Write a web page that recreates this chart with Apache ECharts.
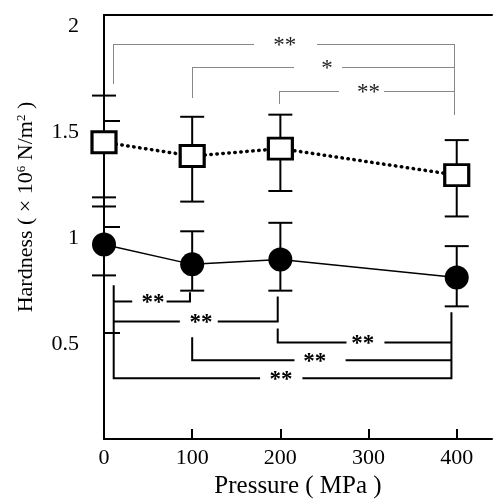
<!DOCTYPE html>
<html>
<head>
<meta charset="utf-8">
<script src="https://cdn.jsdelivr.net/npm/echarts@6/dist/echarts.min.js"></script>
<style>
html,body{margin:0;padding:0;background:#fff}
#container{width:493px;height:504px}
</style>
</head>
<body>
<div id="container"></div>
<script>
var pressure = [0, 100, 200, 400];
var squareMean = [1.40, 1.335, 1.37, 1.245];
var squareHigh = [1.62, 1.52, 1.53, 1.41];
var squareLow = [1.14, 1.12, 1.17, 1.05];
var circleMean = [0.918, 0.824, 0.847, 0.762];
var circleHigh = [1.097, 0.98, 1.02, 0.91];
var circleLow = [0.772, 0.70, 0.70, 0.626];
var xTicks = [0, 100, 200, 300, 400];
var yTicks = [0.5, 1, 1.5, 2];
// brackets: [from x, to x, bar y, left end y, right end y, gap start x, gap end x, label x]
var sigTop = [
	[10, 397, 1.864, 1.68, 1.53, 170, 241, 205],
	[100, 397, 1.755, 1.614, 1.755, 214, 270, 253],
	[198, 397, 1.642, 1.586, 1.642, 265, 317, 300]
];
var sigTopText = ['**', '*', '**'];
var sigBottom = [
	[11, 97.5, 0.649, 0.649, 0.692, 32, 71, 55.5],
	[11, 197, 0.555, 0.555, 0.673, 86, 129, 110],
	[100, 394, 0.372, 0.48, 0.372, 216, 274, 239],
	[197, 394, 0.456, 0.522, 0.456, 275, 318, 293.5],
	[11, 394, 0.287, 0.725, 0.598, 177, 225, 200.6]
];
var sigBottomText = ['**', '**', '**', '**', '**'];

var font = 'Liberation Serif';
var chart = echarts.init(document.getElementById('container'));

function zip(a, b, c) {
	return a.map(function (v, i) { return c ? [v, b[i], c[i]] : [v, b[i]]; });
}

// 误差线
function errorItem(params, api) {
	var x = api.value(0);
	var lo = api.coord([x, api.value(1)]);
	var hi = api.coord([x, api.value(2)]);
	var w = 12;
	var st = { stroke: '#000', lineWidth: 2 };
	return {
		type: 'group',
		children: [
			{ type: 'line', shape: { x1: lo[0], y1: lo[1], x2: hi[0], y2: hi[1] }, style: st },
			{ type: 'line', shape: { x1: hi[0] - w, y1: hi[1], x2: hi[0] + w, y2: hi[1] }, style: st },
			{ type: 'line', shape: { x1: lo[0] - w, y1: lo[1], x2: lo[0] + w, y2: lo[1] }, style: st }
		]
	};
}

// 显著性标记
function bracketItem(texts, dotted) {
	return function (params, api) {
		// 虚线对齐到半像素，避免发灰
		var p = function (x, y) {
			var c = api.coord([x, y]);
			return dotted ? [Math.round(c[0]) + 0.5, Math.round(c[1]) + 0.5] : c;
		};
		var x1 = api.value(0), x2 = api.value(1), y = api.value(2);
		var yl = api.value(3), yr = api.value(4);
		var g1 = api.value(5), g2 = api.value(6), tx = api.value(7);
		var st = dotted
			? { stroke: '#111', lineWidth: 1, lineDash: [1, 1], fill: null }
			: { stroke: '#000', lineWidth: 2, fill: null };
		var t = api.coord([tx, y]);
		return {
			type: 'group',
			children: [
				{ type: 'polyline', shape: { points: [p(x1, yl), p(x1, y), p(g1, y)] }, style: st },
				{ type: 'polyline', shape: { points: [p(g2, y), p(x2, y), p(x2, yr)] }, style: st },
				{
					type: 'text',
					x: t[0], y: t[1] + 2,
					style: {
						text: texts[params.dataIndex],
						align: 'center', verticalAlign: 'middle',
						textAlign: 'center', textVerticalAlign: 'middle',
						fontFamily: font, fontSize: 23,
						fontWeight: dotted ? 'normal' : 'bold',
						fill: dotted ? '#222' : '#000'
					}
				}
			]
		};
	};
}

var option = {
	animation: false,
	grid: { left: 104, right: 1, top: 15, bottom: 64 },
	xAxis: [{
		type: 'value', min: 0, max: 440, interval: 100,
		name: 'Pressure ( MPa )', nameLocation: 'middle', nameGap: 32,
		nameTextStyle: { fontFamily: font, fontSize: 25, color: '#000' },
		axisLine: { lineStyle: { color: '#000', width: 2 } },
		axisTick: { inside: true, length: 10, lineStyle: { color: '#000', width: 2 } },
		axisLabel: {
			fontFamily: font, fontSize: 22, color: '#000', margin: 8,
			showMaxLabel: false,
			formatter: function (v) { return xTicks.indexOf(v) >= 0 ? v : ''; }
		},
		splitLine: { show: false }
	}, {
		type: 'value', position: 'top', min: 0, max: 440,
		axisLine: { show: true, onZero: false, lineStyle: { color: '#000', width: 2 } },
		axisTick: { show: false }, axisLabel: { show: false }, splitLine: { show: false }
	}],
	yAxis: {
		type: 'value', min: 0, max: 2, interval: 0.5,
		name: 'Hardness ( × 10{s|6} N/m{s|2} )', nameLocation: 'middle', nameGap: 66,
		nameTextStyle: {
			fontFamily: font, fontSize: 22, color: '#000', padding: [0, 0, 0, 40],
			rich: { s: { fontFamily: font, fontSize: 13, color: '#000', verticalAlign: 'top', padding: [0, 0, 10, 0] } }
		},
		axisLine: { lineStyle: { color: '#000', width: 2 } },
		axisTick: { inside: true, length: 16, lineStyle: { color: '#000', width: 2 } },
		axisLabel: {
			fontFamily: font, fontSize: 22, color: '#000', margin: 25,
			verticalAlign: 'top', showMinLabel: false,
			formatter: function (v) { return yTicks.indexOf(v) >= 0 ? v : ''; }
		},
		splitLine: { show: false }
	},
	series: [
		{ type: 'custom', renderItem: errorItem, data: zip(pressure, squareLow, squareHigh), encode: { x: 0, y: [1, 2] }, z: 1, clip: false },
		{ type: 'custom', renderItem: errorItem, data: zip(pressure, circleLow, circleHigh), encode: { x: 0, y: [1, 2] }, z: 1, clip: false },
		{
			type: 'line', data: zip(pressure, squareMean), z: 3,
			symbol: 'rect', symbolSize: [24, 21],
			itemStyle: { color: '#fff', borderColor: '#000', borderWidth: 3 },
			lineStyle: { color: '#000', width: 3.5, type: [0.5, 5.5], cap: 'round' }
		},
		{
			type: 'line', data: zip(pressure, circleMean), z: 3,
			symbol: 'circle', symbolSize: 24,
			itemStyle: { color: '#000', borderColor: '#000', borderWidth: 0 },
			lineStyle: { color: '#000', width: 1.5 }
		},
		{ type: 'custom', renderItem: bracketItem(sigTopText, true), data: sigTop, encode: { x: 0, y: 2 }, z: 2, clip: false },
		{ type: 'custom', renderItem: bracketItem(sigBottomText, false), data: sigBottom, encode: { x: 0, y: 2 }, z: 2, clip: false }
	]
};
chart.setOption(option);
window.addEventListener('resize', function () {
	chart.resize();
});
</script>
</body>
</html>
